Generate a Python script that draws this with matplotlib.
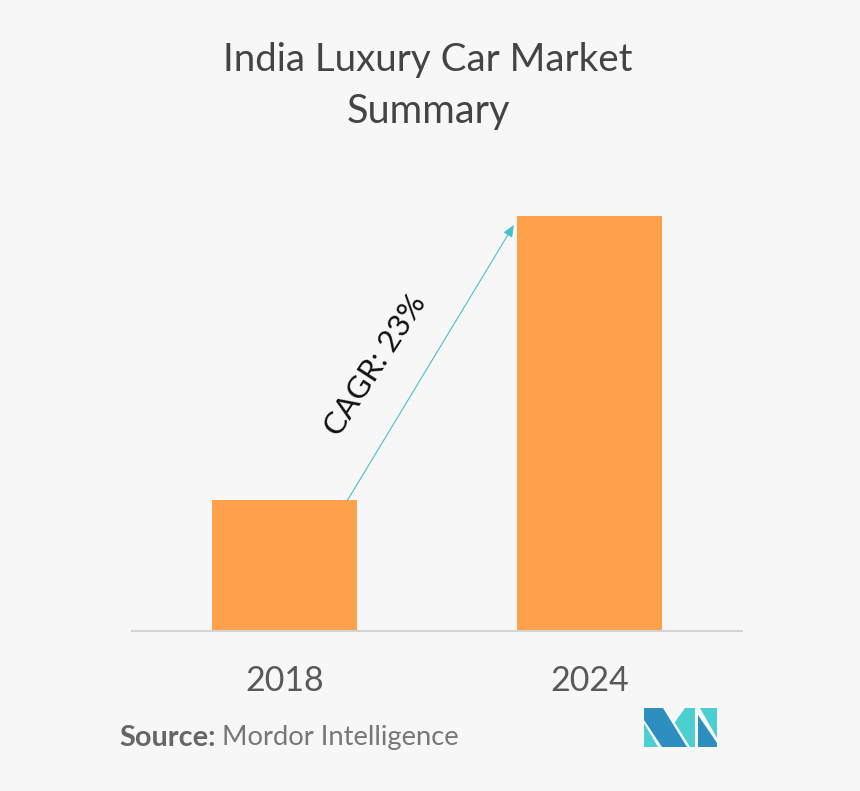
import matplotlib
matplotlib.use("Agg")
import matplotlib.pyplot as plt
from matplotlib.patches import Polygon

plt.rcParams["font.family"] = ["Lato", "DejaVu Sans"]

# data
years = ["2018", "2024"]
values = [131, 415]

W, H = 860, 791
fig = plt.figure(figsize=(W / 100, H / 100), dpi=100, facecolor="#f7f7f7")

# axes area in pixels: x 132..742, baseline y 631
ax = fig.add_axes([132 / W, 1 - 631 / H, 610 / W, 431 / H], facecolor="none")
ax.bar([0, 1], values, width=0.4754, color="#ffa04a")
ax.set_xlim(-0.5, 1.5)
ax.set_ylim(0, 431)
ax.set_xticks([0, 1])
ax.set_xticklabels(years, fontsize=24.5, color="#595959")
ax.set_yticks([])
ax.tick_params(axis="x", length=0, pad=24.5)
for s in ["top", "left", "right"]:
    ax.spines[s].set_visible(False)
ax.spines["bottom"].set_color("#d4d4d4")
ax.spines["bottom"].set_linewidth(1.5)

# CAGR arrow
ax.annotate(
    "",
    xy=(0.752, 406),
    xytext=(0.205, 130),
    arrowprops=dict(arrowstyle="-|>,head_length=0.7,head_width=0.3", color="#45c1cc", lw=0.8,
                    shrinkA=0, shrinkB=0),
)

fig.text(375 / W, 1 - 365 / H, "CAGR: 23%", fontsize=22.5, color="#111111", rotation=57,
         ha="center", va="center", rotation_mode="anchor")

fig.text(428 / W, 1 - 60 / H, "India Luxury Car Market", fontsize=27.7, color="#444444",
         ha="center", va="center")
fig.text(428 / W, 1 - 111 / H, "Summary", fontsize=28.5, color="#444444",
         ha="center", va="center")

fig.text(119 / W, 1 - 738 / H, "Source:", fontsize=20.8, color="#666666", fontweight="bold",
         ha="left", va="center")
fig.text(222 / W, 1 - 738 / H, "Mordor Intelligence", fontsize=19.7, color="#777777",
         ha="left", va="center")

# logo
def px(points):
    return [(x / W, 1 - y / H) for x, y in points]

dark = "#2d8fc0"
light = "#4bcfd0"
logo = [
    ([(644, 708), (663, 708), (687, 747), (662, 747), (644, 720)], dark),
    ([(644, 723), (658, 747), (644, 747)], light),
    ([(675, 722), (685, 708), (695, 708), (695, 747), (690, 747), (675, 723)], light),
    ([(698, 715), (717, 743), (717, 747), (698, 747)], dark),
    ([(698, 708), (717, 708), (717, 738), (700, 708)], light),
]
for pts, c in logo:
    fig.add_artist(Polygon(px(pts), closed=True, transform=fig.transFigure, color=c, lw=0))

fig.savefig("out.png", dpi=100, facecolor=fig.get_facecolor())
